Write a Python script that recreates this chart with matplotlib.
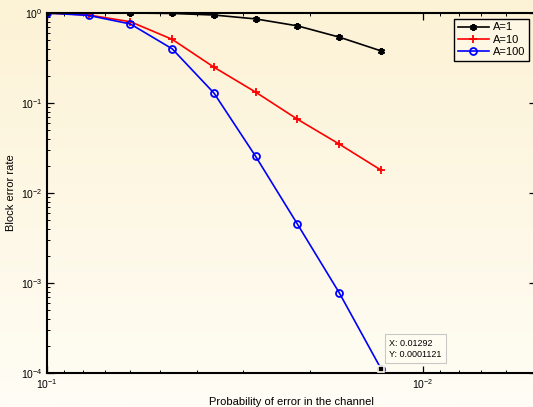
import matplotlib

matplotlib.use("Agg")
import matplotlib.pyplot as plt
import numpy as np

# Channel error probability (log-spaced) and block error rate per setting.
P_ERR = [0.1, 0.07743, 0.05995, 0.04642, 0.03594, 0.02783, 0.02154, 0.01668, 0.01292]
BLER_A1 = [1.0, 1.0, 1.0, 0.99, 0.95, 0.86, 0.72, 0.54, 0.38]
BLER_A10 = [1.0, 0.95, 0.80, 0.51, 0.25, 0.132, 0.066, 0.035, 0.018]
BLER_A100 = [1.0, 0.94, 0.755, 0.40, 0.129, 0.0255, 0.0045, 0.00078, 0.0001121]
LABELS = ["A=1", "A=10", "A=100"]

plt.rcParams.update(
    {
        "font.family": "Liberation Sans",
        "font.size": 8,
        "mathtext.fontset": "custom",
        "mathtext.rm": "Liberation Sans",
        "mathtext.it": "Liberation Sans:italic",
        "xtick.direction": "in",
        "ytick.direction": "in",
        "xtick.top": True,
        "ytick.right": True,
    }
)

fig = plt.figure(figsize=(5.33, 4.07), dpi=100)

# warm vertical gradient behind everything
bg = fig.add_axes([0, 0, 1, 1], zorder=-10)
grad = np.linspace(0, 1, 256).reshape(-1, 1)
top = np.array([252, 242, 213]) / 255.0
bot = np.array([255, 253, 245]) / 255.0
img = top[None, None, :] * (1 - grad[:, :, None]) + bot[None, None, :] * grad[:, :, None]
bg.imshow(img, aspect="auto", extent=[0, 1, 0, 1])
bg.set_axis_off()

ax = fig.add_axes([0.0882, 0.0835, 0.917, 0.8845])
ax.set_facecolor("none")

ax.plot(P_ERR, BLER_A1, color="black", marker=(6, 2, 0), ms=5, mew=1.6, lw=1.2,
        label=LABELS[0])
ax.plot(P_ERR, BLER_A10, color="red", marker="+", ms=5.5, mew=1.3, lw=1.2, label=LABELS[1])
ax.plot(P_ERR, BLER_A100, color="blue", marker="o", ms=5, mfc="none", mew=1.3, lw=1.2,
        label=LABELS[2])

ax.set_xscale("log")
ax.set_yscale("log")
ax.set_xlim(0.1, 0.005)
ax.set_ylim(1e-4, 1)

for sp in ax.spines.values():
    sp.set_linewidth(1.5)
ax.tick_params(which="major", length=5, width=0.9, labelsize=7.5, pad=3)
ax.tick_params(which="minor", length=2.5, width=0.7)

ax.set_xlabel("Probability of error in the channel", fontsize=8, labelpad=4)
ax.set_ylabel("Block error rate", fontsize=8, labelpad=4)

# data tip on the last A=100 point
tip_x, tip_y = P_ERR[-1], BLER_A100[-1]
ax.plot(tip_x, tip_y, marker="s", ms=5, color="black", mec="#FFFDE8", mew=1.2,
        zorder=6, clip_on=False)
ax.annotate(
    f"X: {tip_x}\nY: {tip_y}",
    xy=(tip_x, tip_y),
    xytext=(6, 7),
    textcoords="offset points",
    fontsize=6.5,
    va="bottom",
    ha="left",
    linespacing=1.3,
    bbox={"boxstyle": "square,pad=0.5", "facecolor": "#FFFDF2", "edgecolor": "#C8C8C8",
          "lw": 0.8},
    zorder=7,
)

leg = ax.legend(
    loc="upper right",
    bbox_to_anchor=(1.003, 0.968),
    bbox_transform=fig.transFigure,
    fontsize=8,
    handlelength=2.8,
    handletextpad=0.35,
    labelspacing=0.2,
    borderpad=0.35,
    fancybox=False,
    framealpha=1,
)
leg.get_frame().set_facecolor("#FEF7E4")
leg.get_frame().set_edgecolor("black")
leg.get_frame().set_linewidth(1.0)

fig.savefig("out.png", dpi=100)
